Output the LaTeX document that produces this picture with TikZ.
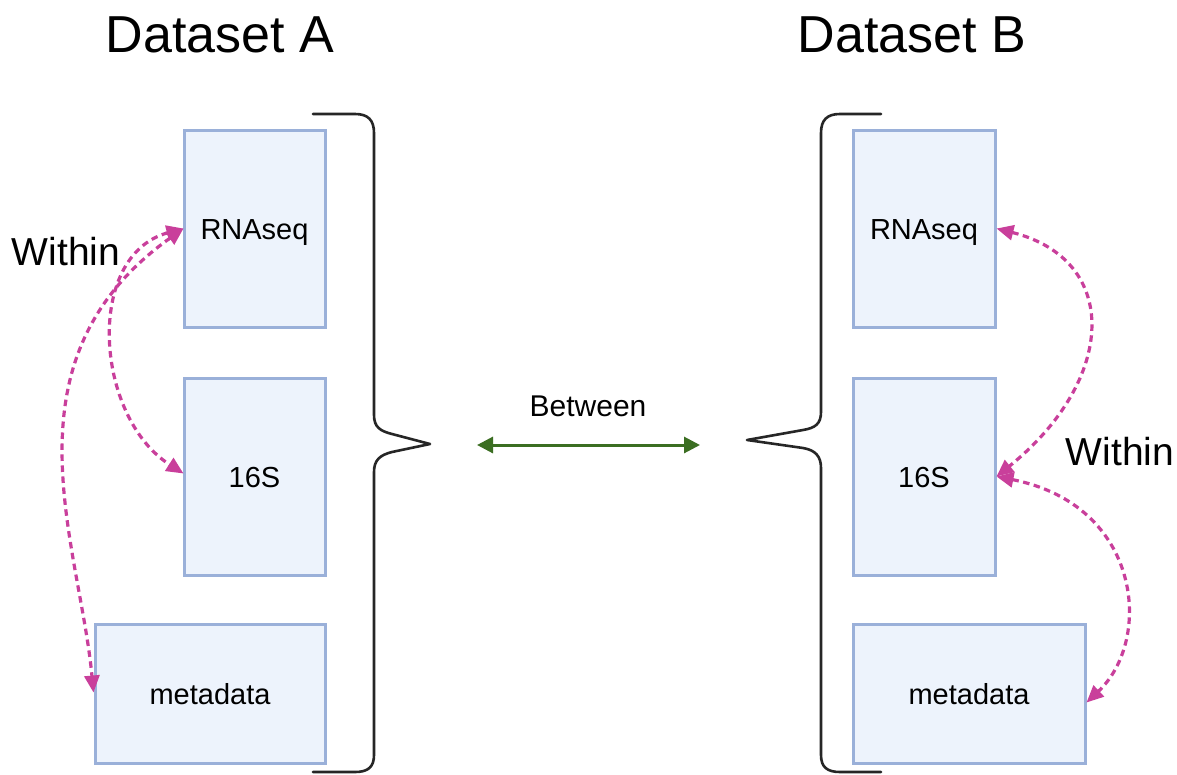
\documentclass[tikz,border=0pt]{standalone}
\usepackage{fontspec}
\setmainfont{Liberation Sans}
\usetikzlibrary{arrows.meta,calc}
\definecolor{boxfill}{HTML}{EDF3FC}
\definecolor{boxline}{HTML}{9AB0D9}
\definecolor{pinkarrow}{HTML}{C93F9B}
\definecolor{greenarrow}{HTML}{3B6E22}
\definecolor{bracecol}{HTML}{262626}
\tikzset{
  databox/.style={draw=boxline, fill=boxfill, line width=3pt, inner sep=0pt,
    text height=21pt, text depth=0pt, font=\fontsize{29}{34}\selectfont},
  within/.style={draw=pinkarrow, line width=3.2pt, dash pattern=on 6.5pt off 4.5pt,
    {Triangle[length=17pt,width=15pt]}-{Triangle[length=17pt,width=15pt]}},
  between/.style={draw=greenarrow, line width=3pt,
    {Triangle[length=16pt,width=16pt]}-{Triangle[length=16pt,width=16pt]}},
  bracepath/.style={draw=bracecol, line width=2.6pt, line join=round, line cap=round},
  titletext/.style={anchor=base, inner sep=0pt, font=\fontsize{52}{60}\selectfont},
  labeltext/.style={anchor=base, inner sep=0pt, font=\fontsize{39}{46}\selectfont},
}
\begin{document}
\begin{tikzpicture}[x=1pt,y=-1pt]
\useasboundingbox (0,0) rectangle (1177,774);
\fill[white] (0,0) rectangle (1177,774);

% titles
\node[titletext] (tA) at (220,52) {Dataset A};
\node[titletext] (tB) at (912,52) {Dataset B};

% left boxes
\node[databox, minimum width=141pt, minimum height=197pt] (a1) at (254.5,228.5) {RNAseq};
\node[databox, minimum width=141pt, minimum height=197pt] (b1) at (254.5,476.5) {16S};
\node[databox, minimum width=230pt, minimum height=139pt] (c1) at (210,693.5) {metadata};

% right boxes
\node[databox, minimum width=142pt, minimum height=197pt] (a2) at (924,228.5) {RNAseq};
\node[databox, minimum width=142pt, minimum height=197pt] (b2) at (924,476.5) {16S};
\node[databox, minimum width=232pt, minimum height=139pt] (c2) at (969,693.5) {metadata};

% braces
\draw[bracepath] (313,114) -- (355,114) .. controls (368,114) and (374,120) .. (374,133)
  -- (374,415) .. controls (374,427) and (380,431) .. (392,434) -- (430,444)
  -- (392,452) .. controls (380,455) and (374,460) .. (374,472)
  -- (374,755) .. controls (374,767) and (368,772) .. (355,772) -- (313,772);
\draw[bracepath] (881,114) -- (840,114) .. controls (827,114) and (821,120) .. (821,133)
  -- (821,412) .. controls (821,424) and (815,428) .. (803,430) -- (747,440)
  -- (803,448) .. controls (815,450) and (821,456) .. (821,468)
  -- (821,755) .. controls (821,767) and (827,772) .. (840,772) -- (881,772);

% within labels
\node[labeltext] (wA) at (66,265) {Within};
\node[labeltext] (wB) at (1120,465) {Within};

% within arrows, left
\draw[within] ([xshift=1pt]a1.west) .. controls +(-99,27) and +(-89,-57) .. ([xshift=1pt,yshift=3pt]b1.west);
\draw[within] ([xshift=1pt]a1.west) .. controls +(-185,132) and +(-14,-150) .. ([yshift=1pt]c1.west);

% within arrows, right
\draw[within] (a2.east) .. controls +(125,31.5) and +(120,-96.5) .. (b2.east);
\draw[within] (b2.east) .. controls +(145,28.5) and +(67,-63) .. ([yshift=-9pt]c2.east);

% between
\coordinate (g1) at (477,445);
\coordinate (g2) at (700,445);
\draw[between] (g1) -- (g2);
\node[anchor=base, inner sep=0pt, font=\fontsize{30}{36}\selectfont] (bt) at (588,416) {Between};
\end{tikzpicture}
\end{document}
